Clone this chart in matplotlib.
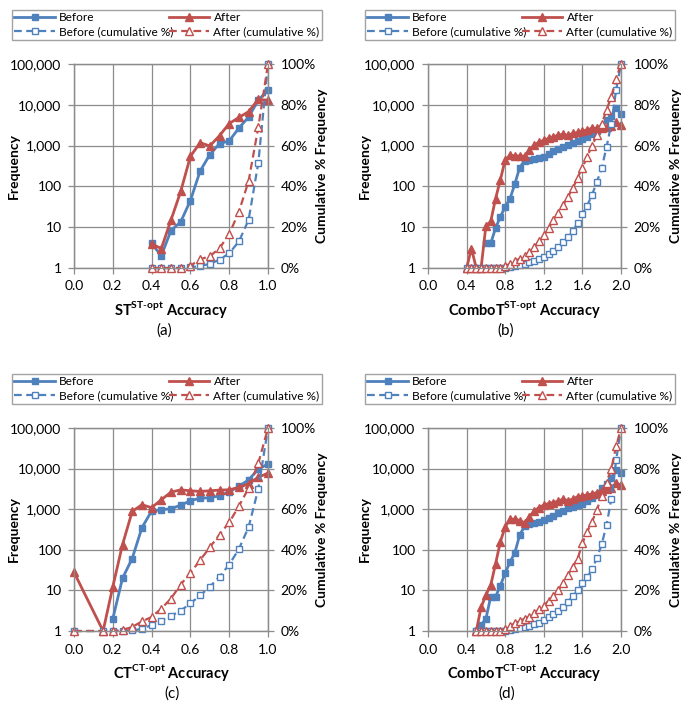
import numpy as np
import matplotlib
matplotlib.use('Agg')
import matplotlib.pyplot as plt
from matplotlib.ticker import FixedLocator, FuncFormatter, NullLocator

plt.rcParams['font.family'] = ['Lato', 'DejaVu Sans']
plt.rcParams['mathtext.fontset'] = 'custom'
plt.rcParams['mathtext.rm'] = 'Lato'
plt.rcParams['mathtext.bf'] = 'Lato:bold'

BLUE = '#4F81BD'
RED = '#C0504D'
GRID = '#8C8C8C'

# ---- panel (a) ----
xa = [0.4, 0.45, 0.5, 0.55, 0.6, 0.65, 0.7, 0.75, 0.8, 0.85, 0.9, 0.95, 1.0]
a_before = [4, 2, 8.3, 13.5, 45, 237, 600, 1120, 1300, 2700, 5000, 13000, 23000]
a_after = [3.9, 3.0, 15, 75, 545, 1180, 980, 1750, 3470, 4900, 6800, 13500, 13000]
a_before_cum = [0, 0, 0, 0, 0.3, 1.0, 2.0, 4.1, 7.2, 13, 23.6, 51.5, 100]
a_after_cum = [0, 0, 0, 0, 1.1, 4.3, 5.7, 9.7, 16.6, 27.6, 42.6, 69, 100]

# ---- panel (b) ----
xb = [0.4, 0.45, 0.5, 0.55, 0.6, 0.65, 0.7, 0.75, 0.8, 0.85, 0.9, 0.95,
      1.0, 1.05, 1.1, 1.15, 1.2, 1.25, 1.3, 1.35, 1.4, 1.45, 1.5, 1.55,
      1.6, 1.65, 1.7, 1.75, 1.8, 1.85, 1.9, 1.95, 2.0]
b_before = [np.nan, np.nan, np.nan, np.nan, 4, 4, 9.5, 18, 32, 50, 115, 290,
            425, 455, 465, 490, 540, 620, 720, 830, 920, 1030, 1150, 1300,
            1420, 1650, 1900, 2300, 2700, 4200, 5200, 8500, 6000]
b_after = [1, 3, 1, 1, 10.8, 13.8, 50, 145, 450, 580, 560, 555,
           550, 760, 1020, 1220, 1350, 1500, 1650, 1800, 1900, 1780, 1980, 2100,
           2250, 2450, 2650, 2700, 2750, 2850, 3000, 3700, 3200]
b_before_cum = [0, 0, 0, 0, 0, 0, 0, 0, 0, 0.3, 0.8, 1.4,
                2.0, 2.8, 3.6, 4.5, 5.5, 6.8, 8.3, 10.2, 12.5, 15.0, 18.0, 22.0,
                26.5, 30.6, 35.9, 42.2, 49.0, 59.2, 70.8, 87.4, 100]
b_after_cum = [0, 0, 0, 0, 0, 0, 0, 0, 0.8, 2.1, 3.4, 4.6,
               5.7, 7.9, 10.3, 13.3, 16, 19.7, 23.4, 27.2, 30.8, 35, 39, 44.3,
               49.2, 54.6, 60, 65, 70.5, 77.5, 84, 92.8, 100]

# ---- panel (c) ----
xc = [0.0, 0.15, 0.2, 0.25, 0.3, 0.35, 0.4, 0.45, 0.5, 0.55, 0.6, 0.65,
      0.7, 0.75, 0.8, 0.85, 0.9, 0.95, 1.0]
c_before = [np.nan, np.nan, 2.0, 20, 61, 350, 900, 970, 1025, 1260, 1610, 1880,
            1900, 2140, 2690, 3640, 5290, 9700, 13000]
c_after = [28, 1, 12.3, 134, 880, 1290, 1090, 1710, 2630, 3000, 2840, 2740,
           2840, 2960, 3000, 3430, 4220, 6150, 7710]
c_before_cum = [0, 0, 0, 0, 0.3, 1, 3, 5, 7.4, 10, 13.6, 17.5,
                21.8, 26.8, 32.7, 40.4, 51.2, 70, 100]
c_after_cum = [0, 0, 0, 0.5, 2, 4.7, 6.9, 11, 16, 22.9, 28.6, 34.9,
               41.2, 47.5, 53.5, 61.5, 70.4, 82.6, 100]

# ---- panel (d) ----
xd = [0.5, 0.55, 0.6, 0.65, 0.7, 0.75, 0.8, 0.85, 0.9, 0.95,
      1.0, 1.05, 1.1, 1.15, 1.2, 1.25, 1.3, 1.35, 1.4, 1.45,
      1.5, 1.55, 1.6, 1.65, 1.7, 1.75, 1.8, 1.85, 1.9, 1.95, 2.0]
d_before = [1, 1.4, 2.0, 7, 7, 13, 27, 50, 85, 230,
            380, 430, 450, 490, 540, 600, 690, 820, 920, 1050,
            1160, 1270, 1370, 1580, 1850, 2300, 3300, 4200, 6000, 9200, 7600]
d_after = [1, 3.8, 7.7, 13.5, 45, 158, 370, 565, 570, 525,
           465, 650, 900, 1100, 1260, 1380, 1460, 1580, 1780, 1620,
           1780, 2030, 2100, 2270, 2360, 2550, 2800, 3100, 3400, 4350, 3950]
d_before_cum = [0, 0, 0, 0, 0, 0, 0, 0.5, 0.8, 1.3,
                1.8, 2.5, 3.3, 4.1, 5.4, 6.7, 8.4, 10, 12, 14.5,
                17, 20, 23.5, 26.4, 30.5, 35.8, 42.7, 52.2, 65, 84.2, 100]
d_after_cum = [0, 0, 0, 0, 0, 0, 0.8, 2.5, 3.8, 4.9,
               6.1, 7.1, 8.7, 10.7, 12.3, 15, 17.4, 20.2, 23.5, 27.6,
               31.7, 35.5, 43.2, 49, 53.9, 59.6, 66.5, 73, 80, 91, 100]

freq_ticks = [1, 10, 100, 1000, 10000, 100000]
pct_ticks = [0, 20, 40, 60, 80, 100]
legend_names = ['Before', 'Before (cumulative %)', 'After', 'After (cumulative %)']

W, H = 685, 706
fig = plt.figure(figsize=(W / 100, H / 100), dpi=100)


def panel(left_px, top_px, w_px, h_px, x, before, after, bcum, acum,
          xmax, xstep, xlabel, tag, legend_box, tag_x, ylab_px, rlab_px):
    ax = fig.add_axes([left_px / W, 1 - (top_px + h_px) / H, w_px / W, h_px / H])
    ax.set_yscale('log')
    ax.set_ylim(1, 100000)
    ax.set_xlim(0, xmax)
    ax.yaxis.set_major_locator(FixedLocator(freq_ticks))
    ax.yaxis.set_minor_locator(NullLocator())
    ax.yaxis.set_major_formatter(FuncFormatter(lambda v, p: '{:,.0f}'.format(v)))
    ax.set_xticks(np.arange(0, xmax + 1e-9, xstep))
    ax.xaxis.set_major_formatter(FuncFormatter(lambda v, p: '%.1f' % v))
    ax.grid(True, color=GRID, lw=0.9)
    ax.set_axisbelow(True)
    for s in ax.spines.values():
        s.set_color(GRID)
        s.set_linewidth(0.9)
    ax.tick_params(axis='both', colors=GRID, length=4, width=0.9,
                   labelsize=10, labelcolor='black', pad=5)

    l1, = ax.plot(x, before, color=BLUE, lw=2, marker='s', ms=4.5,
                  clip_on=False, zorder=3)
    l2, = ax.plot(x, after, color=RED, lw=2, marker='^', ms=5.5,
                  clip_on=False, zorder=3)

    ax2 = ax.twinx()
    ax2.set_ylim(0, 100)
    ax2.set_yticks(pct_ticks)
    ax2.yaxis.set_major_formatter(FuncFormatter(lambda v, p: '%d%%' % v))
    for s in ax2.spines.values():
        s.set_color(GRID)
        s.set_linewidth(0.9)
    ax2.tick_params(axis='y', colors=GRID, length=4, width=0.9,
                    labelsize=10, labelcolor='black', pad=5)
    l3, = ax2.plot(x, bcum, color=BLUE, lw=1.6, ls=(0, (3.5, 2)), marker='s',
                   ms=4.5, mfc='white', mew=1, clip_on=False)
    l4, = ax2.plot(x, acum, color=RED, lw=1.6, ls=(0, (3.5, 2)), marker='^',
                   ms=5.5, mfc='white', mew=1, clip_on=False)

    ax.set_xlabel(xlabel, fontsize=10.5, fontweight='bold', labelpad=5)
    ax.set_ylabel('Frequency', fontsize=10, fontweight='bold')
    ax.yaxis.set_label_coords((ylab_px - left_px) / w_px, 0.5)
    ax2.set_ylabel('Cumulative % Frequency', fontsize=10, fontweight='bold')
    ax2.yaxis.set_label_coords((rlab_px - left_px) / w_px, 0.5)

    fig.text(tag_x / W, 1 - (top_px + h_px + 63) / H, tag, fontsize=11,
             ha='center', va='center')

    bx0, by0, bx1, by1 = legend_box
    leg = fig.legend([l1, l3, l2, l4], legend_names,
                     ncol=2, loc='upper left', mode='expand',
                     bbox_to_anchor=(bx0 / W, 1 - by1 / H, (bx1 - bx0) / W, (by1 - by0) / H),
                     fontsize=8.6, frameon=True, fancybox=False, edgecolor=GRID,
                     handlelength=3.4, numpoints=1, borderpad=0.2,
                     labelspacing=0.25, handletextpad=0.35, borderaxespad=0,
                     columnspacing=0.5)
    leg.get_frame().set_linewidth(1.0)
    return ax


panel(74, 64, 194, 204, xa, a_before, a_after, a_before_cum, a_after_cum,
      1.0, 0.2, r'ST$^{\mathbf{ST}\text{-}\mathbf{opt}}$ Accuracy', '(a)',
      (12, 10, 322, 43), 164, 20, 316)
panel(428, 64, 193, 204, xb, b_before, b_after, b_before_cum, b_after_cum,
      2.0, 0.4, r'ComboT$^{\mathbf{ST}\text{-}\mathbf{opt}}$ Accuracy', '(b)',
      (365, 10, 675, 43), 506, 371, 670)
panel(74, 428, 194, 203, xc, c_before, c_after, c_before_cum, c_after_cum,
      1.0, 0.2, r'CT$^{\mathbf{CT}\text{-}\mathbf{opt}}$ Accuracy', '(c)',
      (12, 374, 322, 406), 172, 20, 316)
panel(428, 428, 193, 203, xd, d_before, d_after, d_before_cum, d_after_cum,
      2.0, 0.4, r'ComboT$^{\mathbf{CT}\text{-}\mathbf{opt}}$ Accuracy', '(d)',
      (365, 374, 675, 406), 507, 371, 670)

fig.savefig('out.png', dpi=100)
